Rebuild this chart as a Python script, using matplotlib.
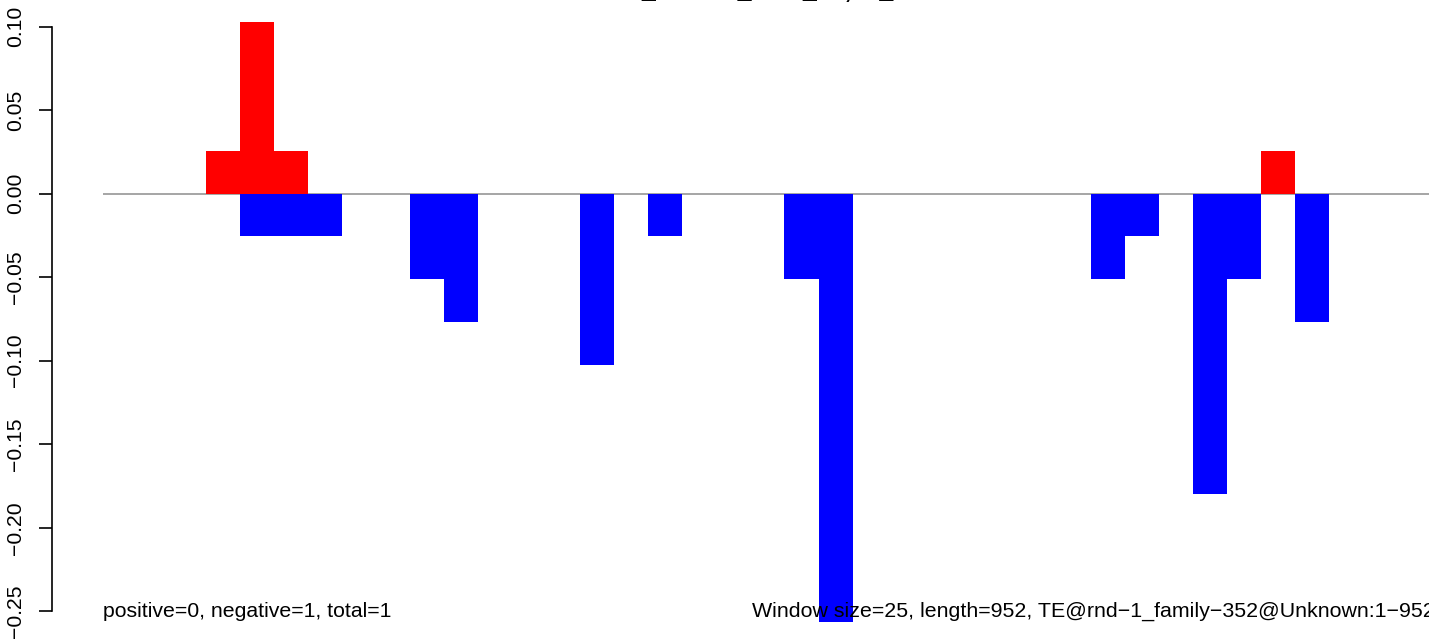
import matplotlib
matplotlib.use("Agg")
import matplotlib.pyplot as plt

# ---- data ----
window_size = 25
seq_length = 952
pos_windows = [3, 4, 5, 34]
pos_values = [0.0256, 0.1026, 0.0256, 0.0256]
neg_windows = [4, 5, 6, 9, 10, 14, 16, 20, 21, 29, 30, 32, 33, 35]
neg_values = [-0.0256, -0.0256, -0.0256, -0.0513, -0.0769, -0.1026, -0.0256,
              -0.0513, -0.2564, -0.0513, -0.0256, -0.1795, -0.0513, -0.0769]
yticks = [-0.25, -0.20, -0.15, -0.10, -0.05, 0.00, 0.05, 0.10]
ytick_labels = ["\u22120.25", "\u22120.20", "\u22120.15", "\u22120.10",
                "\u22120.05", "0.00", "0.05", "0.10"]
title_text = "TE_counts_data_12, al_"
left_note = "positive=0, negative=1, total=1"
right_note = "Window size=25, length=952, TE@rnd\u22121_family\u2212352@Unknown:1\u2212952"

plt.rcParams['font.family'] = ['Liberation Sans', 'DejaVu Sans']

W, H = 1429, 642
fig = plt.figure(figsize=(W / 100, H / 100), dpi=100)

# plot region in pixels (R-like 4% extension)
xlim = (-0.04 * seq_length, seq_length * 1.04)
ylim = (-0.27077, 0.11692)
left_px, right_px = 51.6, 1452.0
top_px, bottom_px = -1.76, 646.0
ax = fig.add_axes([left_px / W, (H - bottom_px) / H,
                   (right_px - left_px) / W, (bottom_px - top_px) / H])
ax.set_xlim(*xlim)
ax.set_ylim(*ylim)

ax.bar([w * window_size for w in pos_windows], pos_values, width=window_size,
       align='edge', color='#FF0000', linewidth=0, zorder=2)
ax.bar([w * window_size for w in neg_windows], neg_values, width=window_size,
       align='edge', color='#0000FF', linewidth=0, zorder=2)
ax.hlines(0, 0, xlim[1], color='#9E9E9E', linewidth=1.3, zorder=1)

for s in ['top', 'right', 'bottom']:
    ax.spines[s].set_visible(False)
ax.spines['left'].set_bounds(-0.25, 0.10)
ax.spines['left'].set_linewidth(1.2)
ax.set_xticks([])
ax.set_yticks(yticks)
ax.set_yticklabels(ytick_labels, rotation=90, va='center', fontsize=15.2)
ax.tick_params(axis='y', length=9.5, width=1.2, pad=9.3)
ax.set_facecolor('none')

ax.text(0, -0.25, left_note, ha='left', va='center', fontsize=15.3, zorder=3)
ax.text(seq_length / 2, -0.25, right_note, ha='left', va='center',
        fontsize=15.4, zorder=3)

fig.text(752 / W, 1 + 1.8 / H, title_text, ha='center', va='baseline',
         fontsize=18, fontweight='bold')

fig.savefig("out.png", dpi=100)
